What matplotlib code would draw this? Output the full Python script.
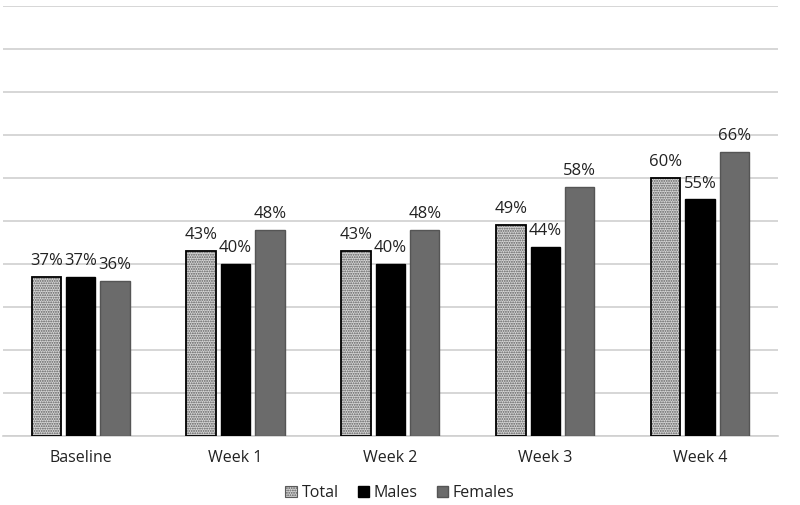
import numpy as np
import matplotlib.pyplot as plt
from matplotlib.patches import Patch

# Data
categories = ['Baseline', 'Week 1', 'Week 2', 'Week 3', 'Week 4']
total = [37, 43, 43, 49, 60]
males = [37, 40, 40, 44, 55]
females = [36, 48, 48, 58, 66]

plt.rcParams['font.family'] = ['Open Sans', 'DejaVu Sans']
plt.rcParams['hatch.linewidth'] = 0.9

fig = plt.figure(figsize=(8, 5.05), dpi=100)
ax = fig.add_axes([0.004, 0.137, 0.968, 0.851])

x = np.arange(len(categories))
w = 0.19
step = 0.222

# Total: dotted fill with black outline (two layers so hatch is gray)
ax.bar(x - step, total, w, color='#d6d6d6', edgecolor='#5a5a5a', hatch='.......', linewidth=0, zorder=3)
ax.bar(x - step, total, w, fill=False, edgecolor='black', linewidth=1.3, zorder=4)
ax.bar(x, males, w, color='black', edgecolor='black', linewidth=1, zorder=3)
ax.bar(x + step, females, w, color='#6b6b6b', edgecolor='#555555', linewidth=1, zorder=3)

for series, off in ((total, -step), (males, 0), (females, step)):
    for xi, v in zip(x, series):
        ax.text(xi + off, v + 1.8, '{}%'.format(v), ha='center', va='bottom',
                fontsize=12, color='#222222')

ax.set_xlim(-0.5, 4.5)
ax.set_ylim(0, 100)
ax.set_yticks(np.arange(0, 101, 10))
ax.yaxis.grid(True, color='#d0d0d0', linewidth=1.2, zorder=0)
ax.set_yticklabels([])
ax.tick_params(axis='y', length=0)
ax.tick_params(axis='x', length=0, pad=10, labelsize=11.5, labelcolor='#222222')
ax.set_xticks(x)
ax.set_xticklabels(categories)
for s in ['top', 'right', 'left']:
    ax.spines[s].set_visible(False)
ax.spines['bottom'].set_color('#d0d0d0')
ax.spines['bottom'].set_linewidth(1.2)

handles = [Patch(facecolor='#d6d6d6', edgecolor='#5a5a5a', hatch='.......', linewidth=0.8, label='Total'),
           Patch(facecolor='black', edgecolor='black', label='Males'),
           Patch(facecolor='#6b6b6b', edgecolor='#555555', label='Females')]
fig.legend(handles=handles, loc='center', bbox_to_anchor=(0.5, 0.024), ncol=3, frameon=False,
           fontsize=11.5, handlelength=0.7, handleheight=0.7, handletextpad=0.3, columnspacing=1.2,
           labelcolor='#222222')

fig.savefig('out.png', dpi=100)
